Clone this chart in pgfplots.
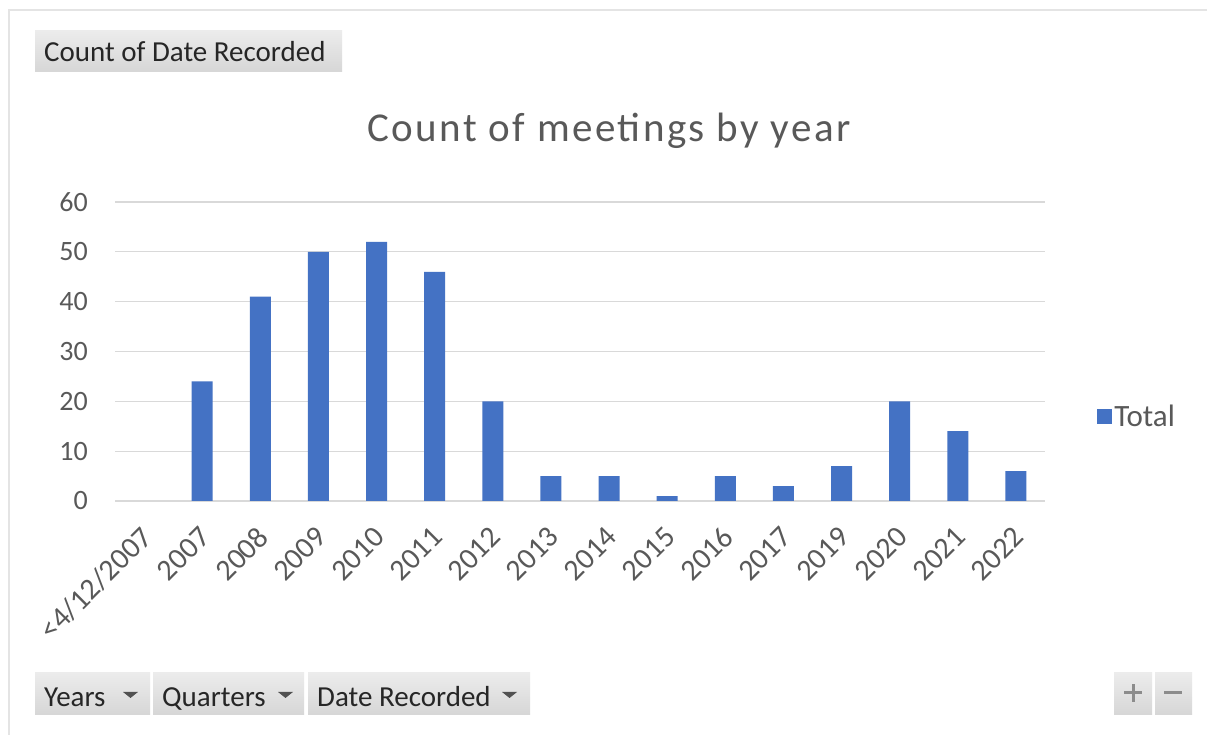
\documentclass[border=0pt]{standalone}
\usepackage{pgfplots}
\pgfplotsset{compat=1.18}
\usepackage{fontspec}
\setmainfont{Carlito}
\newfontfamily\titlefont[LetterSpace=6]{Carlito}
\definecolor{barblue}{HTML}{4472C4}
\definecolor{txtgrey}{HTML}{595959}
\definecolor{gridgrey}{HTML}{D9D9D9}
\definecolor{btntxt}{HTML}{262626}
\begin{document}
\begin{tikzpicture}[x=1pt,y=1pt]
\path[use as bounding box] (0,0) rectangle (1207,735);
\fill[white] (0,0) rectangle (1207,735);
% outer frame (top and left)
\draw[color=gridgrey!70, line width=1.5pt] (9,0) -- (9,725) -- (1207,725);
% field button top
\shade[top color=gray!15, bottom color=gray!32] (35,663) rectangle (342,704);
\node[anchor=base west, inner sep=0pt, text=btntxt, font=\fontsize{29}{30}\selectfont] at (44,673) {Count of Date Recorded};
% title
\node[anchor=base, inner sep=0pt, text=txtgrey, font=\titlefont\fontsize{41}{43}\selectfont] at (609,593) {Count of meetings by year};
\begin{axis}[
  at={(115pt,234pt)}, anchor=south west,
  width=930pt, height=299pt, scale only axis,
  xmin=-0.5, xmax=15.5, ymin=0, ymax=60,
  enlarge x limits=false,
  ybar, bar width=21pt,
  axis x line*=bottom, axis y line*=left,
  x axis line style={draw=gridgrey, line width=1.5pt},
  y axis line style={draw=none},
  ytick={0,10,20,30,40,50,60},
  xtick={0,...,15},
  xticklabels={<4/12/2007,2007,2008,2009,2010,2011,2012,2013,2014,2015,2016,2017,2019,2020,2021,2022},
  tick style={draw=none},
  ymajorgrids, major grid style={draw=gridgrey, line width=1.3pt},
  /pgf/number format/assume math mode=true,
  ticklabel style={text=txtgrey, font=\fontsize{28}{30}\selectfont},
  yticklabel style={anchor=east, inner sep=0pt, xshift=-27pt},
  xticklabel style={inner sep=0pt, xshift=3pt, yshift=-27pt, rotate=45, anchor=east, font=\fontsize{30}{32}\selectfont},
  legend style={at={(1.056,0.284)}, anchor=west, draw=none, fill=none, inner sep=0pt,
    font=\fontsize{31}{33}\selectfont, text=txtgrey,
    /tikz/every even column/.append style={column sep=9pt}},
  legend image code/.code={\fill[barblue] (0pt,-7.5pt) rectangle (15pt,7.5pt);},
]
\addplot[fill=barblue, draw=none] coordinates {
(1,24) (2,41) (3,50) (4,52) (5,46) (6,20) (7,5) (8,5) (9,1) (10,5) (11,3) (12,7) (13,20) (14,14) (15,6)};
\addlegendentry{Total}
\end{axis}
% bottom field buttons
\shade[top color=gray!15, bottom color=gray!32] (35,20) rectangle (150,62);
\shade[top color=gray!15, bottom color=gray!32] (153,20) rectangle (304,62);
\shade[top color=gray!15, bottom color=gray!32] (308,20) rectangle (530,62);
\node[anchor=base west, inner sep=0pt, text=btntxt, font=\fontsize{29}{30}\selectfont] at (44,28) {Years};
\node[anchor=base west, inner sep=0pt, text=btntxt, font=\fontsize{29}{30}\selectfont] at (162,28) {Quarters};
\node[anchor=base west, inner sep=0pt, text=btntxt, font=\fontsize{29}{30}\selectfont] at (317,28) {Date Recorded};
\fill[btntxt!80] (123,43) -- (138,43) -- (130.5,37) -- cycle;
\fill[btntxt!80] (278,43) -- (293,43) -- (285.5,37) -- cycle;
\fill[btntxt!80] (502,43) -- (517,43) -- (509.5,37) -- cycle;
% zoom buttons
\shade[top color=gray!15, bottom color=gray!32] (1114,20) rectangle (1152,62);
\shade[top color=gray!15, bottom color=gray!32] (1155,20) rectangle (1192,62);
\draw[gray!90, line width=3pt] (1124,42) -- (1142,42) (1133,33) -- (1133,51);
\draw[gray!90, line width=3pt] (1164,42) -- (1182,42);
\end{tikzpicture}
\end{document}
